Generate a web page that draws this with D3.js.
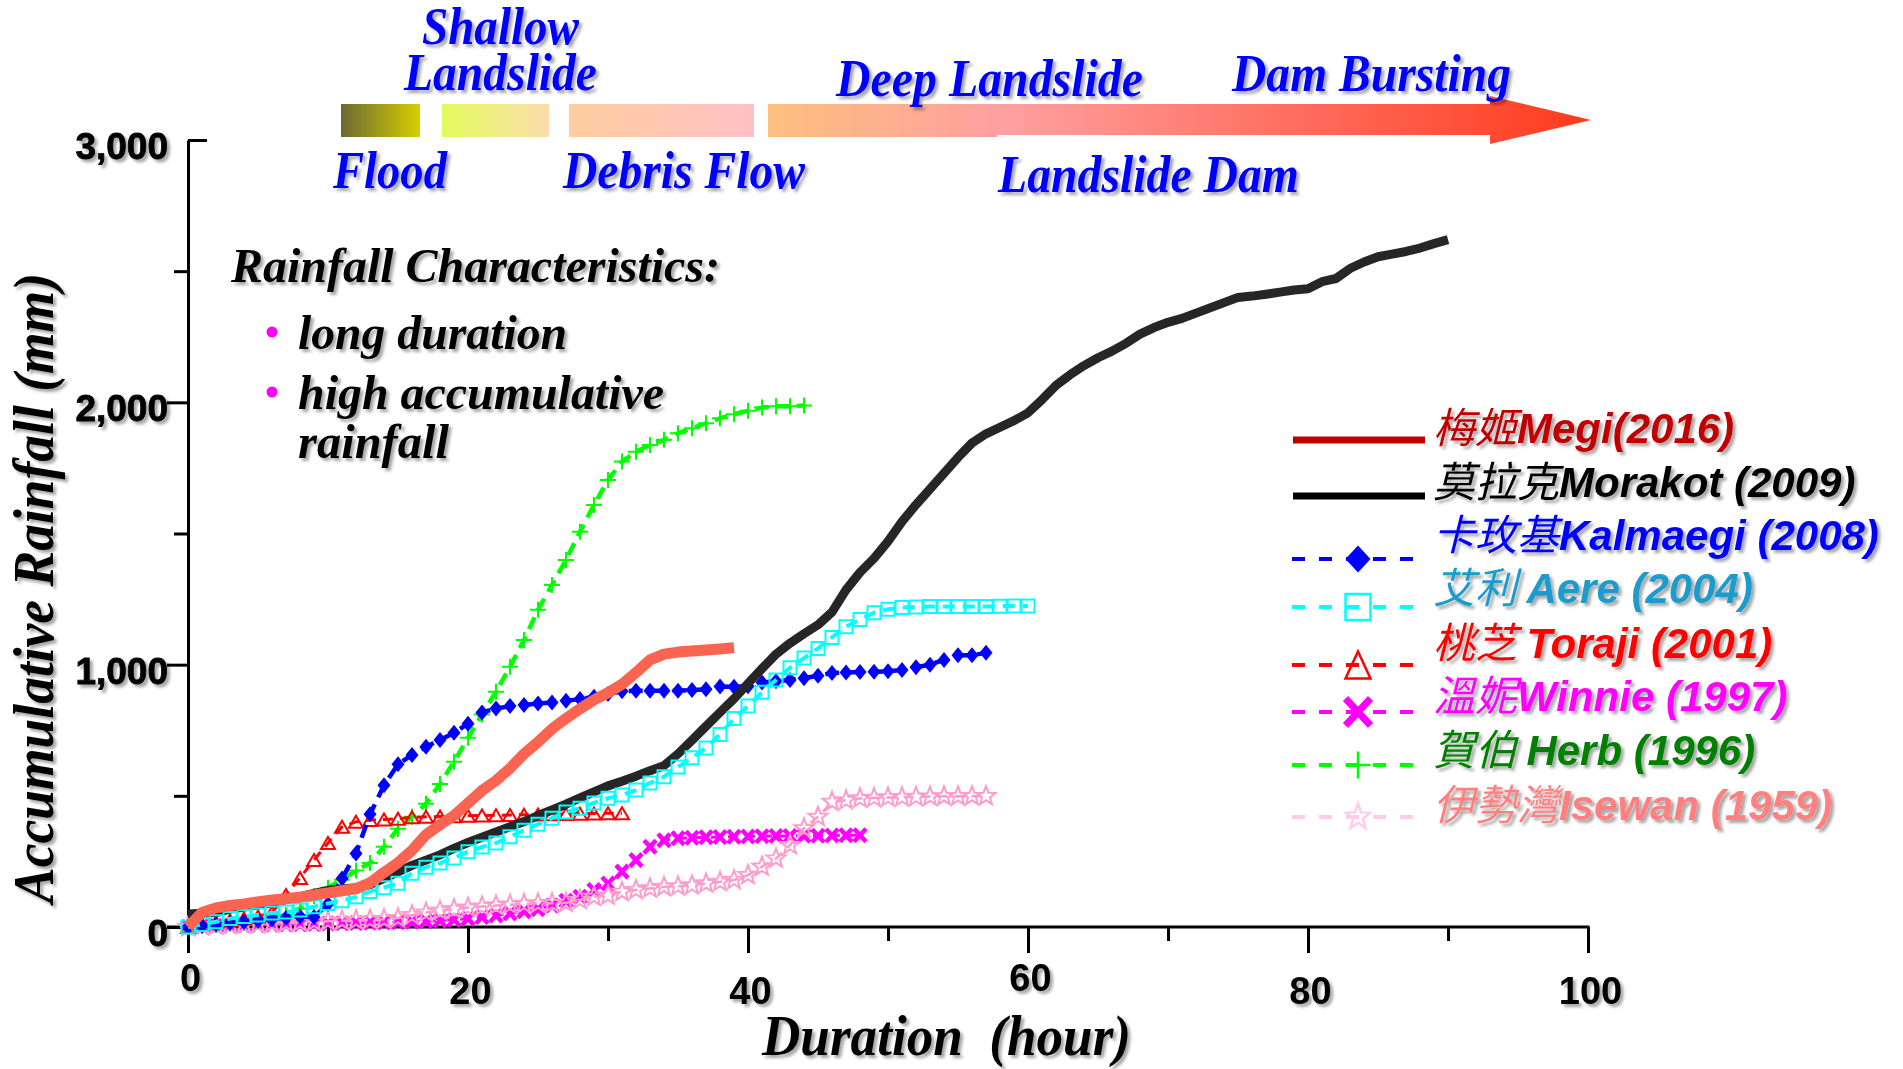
<!DOCTYPE html>
<html>
<head>
<meta charset="utf-8">
<script src="https://cdn.jsdelivr.net/npm/d3@7"></script>
<style>
  html, body { margin: 0; padding: 0; background: #fff; }
  svg { display: block; }
</style>
</head>
<body>
<div id="chart"></div>
<script>
// accumulative rainfall (mm), one value per hour starting at hour 0
const megiRain = [0, 55, 73, 82, 88, 96, 103, 108, 114, 122,
  130, 138, 146, 168, 208, 245, 292, 352, 390, 425,
  472, 520, 558, 605, 660, 705, 755, 795, 832, 866,
  893, 925, 970, 1018, 1040, 1048, 1052, 1056, 1060, 1065];

const morakotRain = [50, 52, 55, 68, 76, 84, 92, 104, 116, 128,
  140, 145, 150, 162, 185, 210, 235, 255, 275, 300,
  322, 342, 362, 382, 402, 425, 446, 468, 492, 515,
  538, 556, 575, 596, 615, 660, 712, 765, 818, 870,
  928, 985, 1040, 1082, 1118, 1152, 1200, 1285, 1352, 1405,
  1470, 1545, 1610, 1670, 1730, 1790, 1845, 1880, 1905, 1930,
  1960, 2010, 2065, 2105, 2140, 2170, 2195, 2225, 2260, 2285,
  2305, 2320, 2340, 2360, 2380, 2400, 2405, 2412, 2420, 2428,
  2433, 2460, 2472, 2510, 2535, 2555, 2565, 2575, 2588, 2605,
  2620];

const kalmaegiRain = [0, 5, 10, 15, 20, 25, 30, 35, 40, 38,
  88, 185, 280, 430, 540, 620, 656, 687, 713, 740,
  775, 818, 833, 842, 846, 852, 856, 862, 869, 878,
  888, 899, 901, 901, 901, 901, 903, 906, 917, 916,
  918, 932, 937, 942, 948, 958, 968, 970, 972, 973,
  975, 980, 990, 1000, 1018, 1036, 1036, 1045];

const aereRain = [0, 10, 20, 32, 40, 46, 53, 57, 65, 77,
  90, 100, 115, 135, 150, 167, 205, 228, 244, 263,
  287, 305, 320, 344, 369, 392, 415, 438, 453, 473,
  491, 503, 522, 549, 573, 610, 645, 682, 734, 795,
  842, 895, 942, 988, 1025, 1062, 1104, 1145, 1172, 1198,
  1211, 1218, 1220, 1222, 1222, 1222, 1222, 1222, 1223, 1224,
  1224];

const torajiRain = [0, 10, 18, 25, 32, 40, 55, 122, 187, 255,
  320, 382, 401, 408, 410, 413, 418, 420, 421, 422,
  424, 425, 426, 427, 428, 429, 430, 431, 432, 433,
  434, 434];

const winnieRain = [0, 2, 4, 5, 6, 8, 9, 10, 11, 12,
  13, 14, 15, 16, 17, 18, 20, 22, 25, 28,
  32, 38, 44, 52, 60, 68, 82, 100, 115, 141,
  166, 211, 255, 306, 331, 338, 340, 342, 343, 344,
  345, 346, 347, 347, 348, 348, 349, 350, 350];

const herbRain = [0, 5, 8, 12, 15, 22, 32, 46, 70, 118,
  150, 180, 215, 244, 306, 375, 420, 470, 545, 630,
  721, 810, 897, 992, 1094, 1209, 1304, 1399, 1507, 1609,
  1704, 1774, 1812, 1837, 1857, 1882, 1901, 1920, 1939, 1955,
  1968, 1980, 1985, 1985, 1988];

const isewanRain = [0, 3, 6, 8, 10, 12, 14, 16, 18, 20,
  22, 24, 26, 28, 30, 34, 45, 55, 62, 68,
  74, 78, 82, 85, 88, 90, 91, 92, 103, 115,
  120, 134, 141, 147, 153, 155, 159, 166, 172, 179,
  198, 230, 261, 312, 376, 420, 477, 483, 490, 492,
  494, 495, 496, 497, 498, 498, 499, 499];

const legendZh = ["梅姬", "莫拉克", "卡玫基", "艾利 ", "桃芝 ", "溫妮", "賀伯 ", "伊勢灣"];
const legendEn = ["Megi(2016)", "Morakot (2009)", "Kalmaegi (2008)", "Aere (2004)",
  "Toraji (2001)", "Winnie (1997)", "Herb (1996)", "Isewan (1959)"];

const xTicks = [0, 10, 20, 30, 40, 50, 60, 70, 80, 90, 100];
const yTicks = [0, 500, 1000, 1500, 2000, 2500, 3000];

const SERIF = "'Liberation Serif', 'Times New Roman', serif";
const SANS = "'Liberation Sans', Arial, sans-serif";
const CJK = "'Noto Sans CJK TC', 'Noto Sans CJK SC', sans-serif";

const seriesStyle = {
    Megi:     { data: megiRain, color: "#fa6450", width: 11 },
    Morakot:  { data: morakotRain, color: "#262626", width: 9 },
    Kalmaegi: { data: kalmaegiRain, color: "#0000ff", width: 4.5, dash: "14,8",
                marker: "diamond", mw: 13, mh: 16, fill: true },
    Aere:     { data: aereRain, color: "#00ffff", width: 4, dash: "12,8",
                marker: "square", mw: 13, mh: 13, mstroke: 2 },
    Toraji:   { data: torajiRain, color: "#ff0000", width: 3, dash: "10,7",
                marker: "triangle", mw: 14, mh: 12, mstroke: 2 },
    Winnie:   { data: winnieRain, color: "#ff00ff", width: 3, dash: "10,7",
                marker: "x", mw: 12, mh: 13, mstroke: 4.5 },
    Herb:     { data: herbRain, color: "#00ff00", width: 4.5, dash: "13,8",
                marker: "plus", mw: 16, mh: 16, mstroke: 2 },
    Isewan:   { data: isewanRain, color: "#ff99cc", width: 2.5, dash: "10,7",
                marker: "star", mw: 20, mh: 20, mstroke: 2, markColor: "#ff9ccc" }
};

const width = 1903, height = 1069;
const svg = d3.select("#chart").append("svg")
    .attr("width", width)
    .attr("height", height);

const x = d3.scaleLinear().domain([0, 100]).range([188, 1588]);
const y = d3.scaleLinear().domain([0, 3000]).range([927, 140]);

function addDefs() {
    const defs = svg.append("defs");
    const f = defs.append("filter").attr("id", "shadow")
        .attr("x", "-10%").attr("y", "-20%").attr("width", "130%").attr("height", "160%");
    f.append("feDropShadow")
        .attr("dx", 3).attr("dy", 3)
        .attr("stdDeviation", 1.6)
        .attr("flood-color", "#000")
        .attr("flood-opacity", 0.35);

    const grads = [
        ["gFlood", "#6a6a32", "#d8ce00"],
        ["gShallow", "#e2fb5c", "#fcdcac"],
        ["gDebris", "#fdcea0", "#ffc0c4"],
        ["gDeep", "#fcc07e", "#ff9f9f"],
        ["gArrow", "#ffa2a2", "#ff3a1c"]
    ];
    grads.forEach(([id, c0, c1]) => {
        const g = defs.append("linearGradient").attr("id", id)
            .attr("x1", "0%").attr("x2", "100%").attr("y1", "0%").attr("y2", "0%");
        g.append("stop").attr("offset", "0%").attr("stop-color", c0);
        g.append("stop").attr("offset", "100%").attr("stop-color", c1);
    });
}

function addStageBar() {
    const g = svg.append("g");
    const bars = [
        [341, 420, "gFlood"],
        [442, 549, "gShallow"],
        [569, 754, "gDebris"],
        [768, 997, "gDeep"]
    ];
    g.selectAll("rect")
        .data(bars)
        .join("rect")
        .attr("x", d => d[0])
        .attr("y", 104)
        .attr("width", d => d[1] - d[0])
        .attr("height", 33)
        .attr("fill", d => `url(#${d[2]})`);

    g.append("path")
        .attr("d", "M997,104 H1490 V96 L1591,120 L1490,144 V135 H997 Z")
        .attr("fill", "url(#gArrow)");

    const labels = [
        ["Shallow", 422, 44, 157],
        ["Landslide", 404, 90, 193],
        ["Flood", 333, 188, 114],
        ["Debris Flow", 563, 188, 242],
        ["Deep Landslide", 836, 96, 307],
        ["Dam Bursting", 1232, 91, 279],
        ["Landslide Dam", 998, 192, 301]
    ];
    g.selectAll("text")
        .data(labels)
        .join("text")
        .attr("x", d => d[1])
        .attr("y", d => d[2])
        .attr("textLength", d => d[3])
        .attr("lengthAdjust", "spacingAndGlyphs")
        .attr("font-family", SERIF)
        .attr("font-style", "italic")
        .attr("font-weight", "bold")
        .attr("font-size", "52px")
        .attr("fill", "#0000ff")
        .attr("filter", "url(#shadow)")
        .text(d => d[0]);
}

function addAxes() {
    const xAxis = svg.append("g")
        .attr("transform", `translate(0,${y(0)})`)
        .call(d3.axisBottom(x)
            .tickValues(xTicks)
            .tickSize(26)
            .tickSizeOuter(0)
            .tickFormat(d => d % 20 === 0 ? d : ""));
    xAxis.select(".domain").remove();
    xAxis.selectAll(".tick line")
        .attr("y2", d => d % 20 === 0 ? 26 : 14)
        .attr("stroke", "#000")
        .attr("stroke-width", 3);
    xAxis.selectAll(".tick text")
        .attr("y", d => (d === 0 || d === 60) ? 37 : 50)
        .attr("x", 2)
        .attr("font-family", SANS)
        .attr("font-weight", "bold")
        .attr("font-size", "38px")
        .attr("fill", "#000")
        .attr("filter", "url(#shadow)");

    const yAxis = svg.append("g")
        .attr("transform", `translate(${x(0)},0)`)
        .call(d3.axisLeft(y)
            .tickValues(yTicks)
            .tickSize(21)
            .tickSizeOuter(0)
            .tickFormat(d => d % 1000 === 0 ? d3.format(",")(d) : ""));
    yAxis.select(".domain")
        .attr("stroke", "#000")
        .attr("stroke-width", 3);
    yAxis.selectAll(".tick line")
        .attr("x2", d => d === 3000 ? 19 : (d % 1000 === 0 ? -21 : -14))
        .attr("stroke", "#000")
        .attr("stroke-width", 3);
    yAxis.selectAll(".tick text")
        .attr("x", -20)
        .attr("dy", "0.5em")
        .attr("font-family", SANS)
        .attr("font-weight", "bold")
        .attr("font-size", "37px")
        .attr("stroke", "#000")
        .attr("stroke-width", 0.8)
        .attr("fill", "#000")
        .attr("filter", "url(#shadow)");

    // horizontal axis line (runs left into the 0 tick)
    svg.append("line")
        .attr("x1", x(0) - 21).attr("x2", x(100) + 1.5)
        .attr("y1", y(0)).attr("y2", y(0))
        .attr("stroke", "#000")
        .attr("stroke-width", 3);

    svg.append("text")
        .attr("x", 762)
        .attr("y", 1055)
        .attr("textLength", 369)
        .attr("lengthAdjust", "spacingAndGlyphs")
        .attr("font-family", SERIF)
        .attr("font-style", "italic")
        .attr("font-weight", "bold")
        .attr("font-size", "56px")
        .attr("filter", "url(#shadow)")
        .attr("xml:space", "preserve")
        .text("Duration  (hour)");

    svg.append("g")
        .attr("filter", "url(#shadow)")
        .append("text")
        .attr("transform", "translate(53,588) rotate(-90)")
        .attr("text-anchor", "middle")
        .attr("textLength", 630)
        .attr("lengthAdjust", "spacingAndGlyphs")
        .attr("font-family", SERIF)
        .attr("font-style", "italic")
        .attr("font-weight", "bold")
        .attr("font-size", "58px")
        .text("Accumulative Rainfall (mm)");
}

function addNotes() {
    const g = svg.append("g")
        .attr("font-family", SERIF)
        .attr("font-style", "italic")
        .attr("font-weight", "bold")
        .attr("font-size", "48px")
        .attr("fill", "#000");
    const lines = [
        ["Rainfall Characteristics:", 231, 282, 489],
        ["long duration", 298, 349, 269],
        ["high accumulative", 298, 409, 366],
        ["rainfall", 298, 458, 151]
    ];
    g.selectAll("text")
        .data(lines)
        .join("text")
        .attr("x", d => d[1])
        .attr("y", d => d[2])
        .attr("textLength", d => d[3])
        .attr("lengthAdjust", "spacingAndGlyphs")
        .attr("filter", "url(#shadow)")
        .text(d => d[0]);
    g.selectAll("circle")
        .data([332, 392])
        .join("circle")
        .attr("cx", 272)
        .attr("cy", d => d)
        .attr("r", 5.5)
        .attr("fill", "#ff00ff");
}

function markerPath(type, w, h) {
    const a = w / 2, b = h / 2;
    switch (type) {
        case "diamond": return `M0,${-b}L${a},0L0,${b}L${-a},0Z`;
        case "square": return `M${-a},${-b}H${a}V${b}H${-a}Z`;
        case "triangle": return `M0,${-b}L${a},${b}L${-a},${b}Z`;
        case "x": return `M${-a},${-b}L${a},${b}M${a},${-b}L${-a},${b}`;
        case "plus": return `M${-a},0H${a}M0,${-b}V${b}`;
        case "star": {
            const pts = d3.range(10).map(i => {
                const r = i % 2 === 0 ? 1 : 0.42;
                const ang = -Math.PI / 2 + i * Math.PI / 5;
                return [Math.cos(ang) * r * a, Math.sin(ang) * r * b];
            });
            return "M" + pts.map(p => p.join(",")).join("L") + "Z";
        }
    }
    return "";
}

function drawSeries() {
    const order = ["Winnie", "Isewan", "Herb", "Toraji", "Kalmaegi", "Morakot", "Aere", "Megi"];
    const line = d3.line()
        .x((d, i) => x(i))
        .y(d => y(d));
    const plot = svg.append("g");

    order.forEach(key => {
        const s = seriesStyle[key];
        const g = plot.append("g");
        g.append("path")
            .datum(s.data)
            .attr("d", line)
            .attr("fill", "none")
            .attr("stroke", s.color)
            .attr("stroke-width", s.width)
            .attr("stroke-linejoin", "round")
            .attr("stroke-dasharray", s.dash || null);
        if (s.marker) {
            g.selectAll("path.mark")
                .data(s.data)
                .join("path")
                .attr("class", "mark")
                .attr("transform", (d, i) => `translate(${x(i)},${y(d)})`)
                .attr("d", markerPath(s.marker, s.mw, s.mh))
                .attr("fill", s.fill ? s.color : "none")
                .attr("stroke", s.fill ? "none" : (s.markColor || s.color))
                .attr("stroke-width", s.mstroke || 0);
        }
    });
}

function addLegend() {
    const keys = ["Megi", "Morakot", "Kalmaegi", "Aere", "Toraji", "Winnie", "Herb", "Isewan"];
    const textColors = ["#c00000", "#000000", "#0000ff", "#1a9ccc", "#ff0000", "#ff00ff", "#008000", "#ff8080"];
    const rowY = [440, 496, 559, 607, 665, 712, 765, 817];
    const textY = [443, 497, 550, 603, 658, 711, 765, 820];
    const legend = svg.append("g");

    keys.forEach((key, i) => {
        const s = seriesStyle[key];
        if (!s.marker) {
            legend.append("line")
                .attr("x1", 1293).attr("x2", 1425)
                .attr("y1", rowY[i]).attr("y2", rowY[i])
                .attr("stroke", key === "Megi" ? "#c00000" : "#000")
                .attr("stroke-width", 7);
        } else {
            const c = key === "Isewan" ? "#ffccee" : s.color;
            legend.append("line")
                .attr("x1", 1292).attr("x2", 1418)
                .attr("y1", rowY[i]).attr("y2", rowY[i])
                .attr("stroke", c)
                .attr("stroke-width", 4)
                .attr("stroke-dasharray", "13,14");
            legend.append("path")
                .attr("transform", `translate(1358,${rowY[i]})`)
                .attr("d", markerPath(s.marker, 25, key === "Aere" ? 26 : 27))
                .attr("fill", s.fill ? c : "none")
                .attr("stroke", s.fill ? "none" : c)
                .attr("stroke-width", s.marker === "x" ? 7 : 2.5);
        }
        const t = legend.append("text")
            .attr("x", 1433)
            .attr("y", textY[i])
            .attr("font-size", "42px")
            .attr("font-style", "italic")
            .attr("fill", textColors[i])
            .attr("filter", "url(#shadow)")
            .attr("xml:space", "preserve");
        t.append("tspan")
            .attr("font-family", CJK)
            .text(legendZh[i]);
        t.append("tspan")
            .attr("font-family", SANS)
            .attr("font-weight", "bold")
            .text(legendEn[i]);
    });
}

addDefs();
addStageBar();
addAxes();
addNotes();
drawSeries();
addLegend();
</script>
</body>
</html>
